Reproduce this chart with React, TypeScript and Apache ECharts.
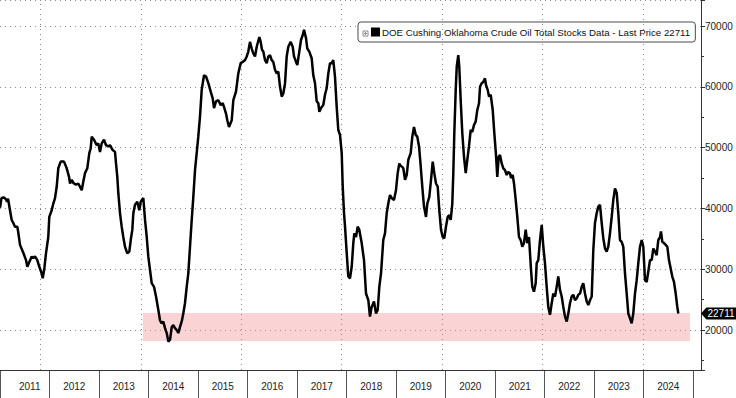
import React, { useEffect, useRef } from "react";
import * as echarts from "echarts";

const time = [
  2011.195, 2011.225, 2011.275, 2011.315, 2011.335, 2011.355, 2011.394, 2011.428, 2011.46, 2011.494,
  2011.54, 2011.56, 2011.594, 2011.659, 2011.713, 2011.739, 2011.779, 2011.827, 2011.858, 2011.892,
  2011.938, 2011.978, 2012.026, 2012.046, 2012.078, 2012.111, 2012.157, 2012.177, 2012.225, 2012.257,
  2012.291, 2012.325, 2012.356, 2012.404, 2012.47, 2012.524, 2012.57, 2012.59, 2012.624, 2012.655,
  2012.709, 2012.755, 2012.823, 2012.854, 2012.888, 2012.934, 2012.974, 2013.002, 2013.022, 2013.068,
  2013.121, 2013.153, 2013.187, 2013.221, 2013.267, 2013.307, 2013.353, 2013.386, 2013.44, 2013.486,
  2013.506, 2013.532, 2013.552, 2013.586, 2013.619, 2013.651, 2013.685, 2013.731, 2013.771, 2013.799,
  2013.831, 2013.851, 2013.884, 2013.93, 2013.97, 2013.998, 2014.05, 2014.084, 2014.118, 2014.149,
  2014.183, 2014.217, 2014.263, 2014.303, 2014.349, 2014.382, 2014.416, 2014.448, 2014.482, 2014.516,
  2014.548, 2014.582, 2014.616, 2014.647, 2014.681, 2014.715, 2014.747, 2014.781, 2014.815, 2014.846,
  2014.88, 2014.914, 2014.946, 2014.98, 2015.014, 2015.046, 2015.08, 2015.113, 2015.145, 2015.179,
  2015.213, 2015.259, 2015.299, 2015.345, 2015.392, 2015.432, 2015.458, 2015.498, 2015.544, 2015.592,
  2015.632, 2015.657, 2015.697, 2015.723, 2015.757, 2015.811, 2015.843, 2015.896, 2015.942, 2015.99,
  2016.03, 2016.076, 2016.11, 2016.141, 2016.175, 2016.209, 2016.241, 2016.275, 2016.309, 2016.361,
  2016.388, 2016.414, 2016.44, 2016.474, 2016.508, 2016.54, 2016.574, 2016.607, 2016.639, 2016.673,
  2016.707, 2016.739, 2016.773, 2016.807, 2016.839, 2016.873, 2016.906, 2016.938, 2016.986, 2017.026,
  2017.052, 2017.092, 2017.118, 2017.157, 2017.191, 2017.225, 2017.251, 2017.291, 2017.316, 2017.356,
  2017.404, 2017.436, 2017.47, 2017.504, 2017.536, 2017.556, 2017.589, 2017.635, 2017.669, 2017.703,
  2017.735, 2017.769, 2017.803, 2017.834, 2017.868, 2017.902, 2017.934, 2017.968, 2018.002, 2018.022,
  2018.048, 2018.068, 2018.102, 2018.133, 2018.167, 2018.201, 2018.233, 2018.253, 2018.287, 2018.32,
  2018.352, 2018.4, 2018.446, 2018.486, 2018.532, 2018.565, 2018.599, 2018.645, 2018.685, 2018.719,
  2018.751, 2018.785, 2018.83, 2018.864, 2018.898, 2018.93, 2018.964, 2018.998, 2019.043, 2019.083,
  2019.117, 2019.149, 2019.163, 2019.197, 2019.229, 2019.263, 2019.297, 2019.329, 2019.376, 2019.408,
  2019.442, 2019.476, 2019.508, 2019.542, 2019.576, 2019.607, 2019.641, 2019.681, 2019.707, 2019.747,
  2019.781, 2019.815, 2019.846, 2019.88, 2019.914, 2019.946, 2019.98, 2020.014, 2020.045, 2020.079,
  2020.113, 2020.145, 2020.173, 2020.205, 2020.225, 2020.245, 2020.273, 2020.293, 2020.324, 2020.344,
  2020.372, 2020.404, 2020.438, 2020.472, 2020.504, 2020.537, 2020.571, 2020.603, 2020.637, 2020.671,
  2020.703, 2020.737, 2020.757, 2020.79, 2020.822, 2020.856, 2020.876, 2020.91, 2020.936, 2020.97,
  2021.01, 2021.042, 2021.075, 2021.101, 2021.129, 2021.155, 2021.189, 2021.221, 2021.255, 2021.288,
  2021.32, 2021.354, 2021.374, 2021.408, 2021.434, 2021.468, 2021.5, 2021.533, 2021.567, 2021.599,
  2021.633, 2021.667, 2021.699, 2021.733, 2021.753, 2021.773, 2021.798, 2021.832, 2021.866, 2021.886,
  2021.918, 2021.952, 2021.986, 2022.018, 2022.051, 2022.085, 2022.117, 2022.151, 2022.185, 2022.217,
  2022.251, 2022.284, 2022.316, 2022.35, 2022.384, 2022.416, 2022.45, 2022.484, 2022.516, 2022.549,
  2022.583, 2022.615, 2022.649, 2022.683, 2022.715, 2022.749, 2022.783, 2022.814, 2022.848, 2022.882,
  2022.914, 2022.948, 2022.982, 2023.014, 2023.047, 2023.081, 2023.113, 2023.147, 2023.181, 2023.213,
  2023.247, 2023.28, 2023.312, 2023.346, 2023.38, 2023.412, 2023.446, 2023.48, 2023.512, 2023.545,
  2023.579, 2023.611, 2023.645, 2023.679, 2023.711, 2023.745, 2023.778, 2023.81, 2023.844, 2023.878,
  2023.91, 2023.944, 2023.978, 2024.01, 2024.043, 2024.077, 2024.109, 2024.143, 2024.177, 2024.209,
  2024.243, 2024.276, 2024.308, 2024.342, 2024.362, 2024.388, 2024.422, 2024.456, 2024.488, 2024.521,
  2024.555, 2024.587, 2024.621, 2024.655, 2024.687, 2024.707,
];

// Cushing crude stocks, thousand barrels
const stocks = [
  40100, 41700, 41800, 41500, 41100, 41600, 39700, 38100, 37600, 37000,
  37000, 36000, 34000, 32700, 31500, 30400, 31200, 32100, 31800, 32100,
  31500, 30400, 29300, 28500, 30100, 32600, 35300, 38600, 39700, 40800,
  41700, 43600, 46600, 47700, 47700, 46600, 45200, 44100, 44700, 44200,
  43900, 44100, 43000, 44400, 45800, 46600, 49100, 49900, 51800, 51300,
  50400, 50700, 49300, 50700, 51300, 50400, 50200, 50400, 49600, 49300,
  47400, 45200, 42500, 39200, 37000, 35300, 33700, 32600, 32900, 34800,
  36500, 39200, 40600, 41100, 39700, 41100, 41700, 38100, 35300, 32100,
  29900, 27700, 27100, 25500, 23300, 21600, 21100, 21400, 20300, 19500,
  18100, 18400, 20500, 20800, 20300, 20000, 19500, 20500, 21400, 22700,
  24400, 27100, 29300, 33700, 38100, 41900, 46300, 49100, 51800, 55100,
  59500, 61900, 61700, 60600, 59200, 58100, 56500, 57600, 57800, 57000,
  57300, 56700, 55600, 54500, 53400, 54500, 57800, 59200, 62200, 63900,
  64100, 64400, 65000, 65800, 67400, 66300, 65500, 65000, 66600, 68200,
  67400, 66100, 65800, 64400, 63900, 65000, 65200, 64400, 64100, 62800,
  62200, 62500, 60000, 58400, 58900, 60600, 65000, 66600, 67400, 66600,
  65000, 64100, 63600, 65800, 67700, 68500, 69400, 68000, 66300, 65800,
  64700, 61900, 60600, 57600, 57300, 55900, 56500, 57000, 58700, 59800,
  62200, 63900, 63900, 64400, 61700, 56700, 52900, 52100, 49100, 43600,
  39200, 37000, 32600, 28800, 28500, 30400, 34300, 35900, 35300, 37000,
  36500, 34300, 31500, 26000, 24900, 22200, 23800, 24700, 22700, 23300,
  27100, 29300, 34800, 35900, 39200, 40800, 42200, 41700, 41400, 43000,
  45800, 47400, 47100, 46900, 46600, 44700, 45500, 48000, 49100, 51800,
  53400, 52100, 51800, 50200, 46900, 43600, 40300, 38600, 40800, 41900,
  44700, 47700, 45800, 44100, 43600, 39700, 36500, 35300, 35100, 37000,
  38600, 38900, 38100, 40800, 45800, 52400, 59500, 63300, 65200, 63300,
  57800, 52400, 48500, 45800, 48000, 50200, 52900, 52600, 53700, 54300,
  56200, 57300, 60000, 60600, 60800, 61400, 60300, 59500, 58400, 58700,
  56200, 52400, 48800, 45200, 48500, 48800, 47400, 46600, 46300, 45500,
  46000, 45800, 45000, 45500, 44100, 41400, 38600, 35300, 34800, 33700,
  34300, 36500, 34300, 35300, 32600, 29900, 27100, 26300, 27700, 31000,
  31500, 34800, 37300, 33700, 31000, 27100, 23800, 22500, 24400, 26000,
  25500, 27100, 28800, 26600, 25500, 23800, 22200, 21400, 22700, 24400,
  25500, 25800, 24900, 25200, 25800, 26000, 27100, 27700, 26000, 24700,
  24100, 24900, 25500, 33200, 37600, 39200, 40300, 40600, 37600, 35100,
  33400, 32900, 33700, 35900, 38600, 41400, 43300, 42500, 39200, 34800,
  34500, 33700, 29300, 26000, 22700, 21900, 21100, 22700, 26000, 28200,
  31000, 33700, 34800, 33700, 28200, 27900, 29600, 31500, 31500, 33400,
  32900, 32300, 34800, 35300, 36200, 34500, 34300, 34000, 33700, 31500,
  30100, 28800, 27900, 26000, 23800, 22711,
];

const years = ["2011", "2012", "2013", "2014", "2015", "2016", "2017", "2018", "2019", "2020", "2021", "2022", "2023", "2024"];
const gridYears = [2012, 2014, 2016, 2018, 2020, 2022, 2024];
const seriesName = "DOE Cushing Oklahoma Crude Oil Total Stocks Data - Last Price 22711";
const lastPrice = 22711;
const band = { from: 2014.04, to: 2024.94, low: 18200, high: 22800 };
const xRange = { min: 2011.195, max: 2025.159 };
const yRange = { min: 13420, max: 74285 };

const FONT = "Liberation Sans, Arial, sans-serif";

export default function App() {
  const ref = useRef<HTMLDivElement>(null);

  useEffect(() => {
    if (!ref.current) return;
    const chart = echarts.init(ref.current, undefined, { renderer: "svg" });
    const dotted = { color: "#8a8a8a", width: 1, type: [1, 4] as number[] };

    chart.setOption({
      animation: false,
      backgroundColor: "#ffffff",
      textStyle: { fontFamily: FONT },
      grid: [
        { left: 0, right: 35, top: 0, bottom: 28, containLabel: false },
        { left: -9.8, right: 43, top: 370, height: 28, containLabel: false },
      ],
      legend: {
        left: 358,
        top: 22,
        backgroundColor: "#ffffff",
        borderColor: "#4a4a4a",
        borderWidth: 1,
        borderRadius: 3,
        padding: [5, 5, 5, 13],
        itemWidth: 9,
        itemHeight: 9,
        icon: "rect",
        textStyle: { fontSize: 9.7, color: "#111", fontFamily: FONT, padding: [0, 0, 0, -3] },
        data: [seriesName],
      },
      graphic: [
        {
          type: "rect",
          x: 363,
          y: 31,
          z: 100,
          zlevel: 0,
          shape: { x: 0, y: 0, width: 5, height: 5 },
          style: { stroke: "#8a8a8a", fill: "#fff", lineWidth: 1 },
        },
        {
          type: "line",
          x: 363,
          y: 31,
          z: 101,
          shape: { x1: 1, y1: 2.5, x2: 4, y2: 2.5 },
          style: { stroke: "#8a8a8a", lineWidth: 1 },
        },
        {
          type: "line",
          x: 363,
          y: 31,
          z: 101,
          shape: { x1: 2.5, y1: 1, x2: 2.5, y2: 4 },
          style: { stroke: "#8a8a8a", lineWidth: 1 },
        },
      ],
      xAxis: [
        {
          type: "value",
          gridIndex: 0,
          min: xRange.min,
          max: xRange.max,
          axisLine: { show: true, lineStyle: { color: "#333", width: 1 } },
          axisTick: { show: false },
          axisLabel: { show: false },
          splitLine: { show: false },
        },
        {
          type: "category",
          gridIndex: 1,
          data: years,
          position: "top",
          boundaryGap: true,
          axisLine: { show: false },
          axisTick: { show: false },
          splitLine: { show: true, interval: 0, lineStyle: { color: "#555", width: 1 } },
          axisLabel: {
            inside: true,
            interval: 0,
            margin: 11,
            fontSize: 10,
            color: "#222",
            fontFamily: FONT,
            formatter: (v: string, i: number) => (i === 0 ? "{s|" + v + "}" : v),
            rich: { s: { fontSize: 10, color: "#222", fontFamily: FONT, padding: [0, 0, 0, 10] } },
          },
        },
      ],
      yAxis: [
        {
          type: "value",
          gridIndex: 0,
          position: "right",
          min: yRange.min,
          max: yRange.max,
          splitNumber: 6,
          axisLine: { show: true, lineStyle: { color: "#333", width: 1 } },
          axisTick: { show: true, length: 4, lineStyle: { color: "#333" } },
          minorTick: { show: true, splitNumber: 2, length: 3, lineStyle: { color: "#333" } },
          axisLabel: {
            margin: 4,
            fontSize: 10,
            color: "#222",
            fontFamily: FONT,
            showMinLabel: false,
            showMaxLabel: false,
            formatter: (v: number) => String(Math.round(v)),
          },
          splitLine: { show: true, lineStyle: dotted },
        },
        { type: "value", gridIndex: 1, show: false },
      ],
      series: [
        {
          name: seriesName,
          type: "line",
          xAxisIndex: 0,
          yAxisIndex: 0,
          data: time.map((t, i) => [t, stocks[i]]),
          showSymbol: false,
          clip: false,
          color: "#000",
          lineStyle: { color: "#000", width: 2.5 },
          z: 5,
          markArea: {
            silent: true,
            itemStyle: { color: "rgba(242,148,148,0.4)" },
            data: [[{ xAxis: band.from, yAxis: band.low }, { xAxis: band.to, yAxis: band.high }]],
          },
          markLine: {
            silent: true,
            symbol: "none",
            label: { show: false },
            lineStyle: dotted,
            data: gridYears.map((y) => ({ xAxis: y })),
          },
          markPoint: {
            silent: true,
            symbol: "path://M0,6 L6,0 L40,0 L40,12 L6,12 Z",
            symbolSize: [36, 12],
            symbolKeepAspect: false,
            symbolOffset: [18, 0],
            itemStyle: { color: "#000" },
            label: { show: true, position: "inside", color: "#fff", fontSize: 10, fontFamily: FONT, offset: [2, 0], formatter: String(lastPrice) },
            data: [{ coord: [xRange.max, lastPrice], value: lastPrice }],
          },
        },
      ],
    });

    return () => chart.dispose();
  }, []);

  return (
    <div
      ref={ref}
      style={{ position: "fixed", left: 0, top: 0, width: 736, height: 398, background: "#fff" }}
    />
  );
}
